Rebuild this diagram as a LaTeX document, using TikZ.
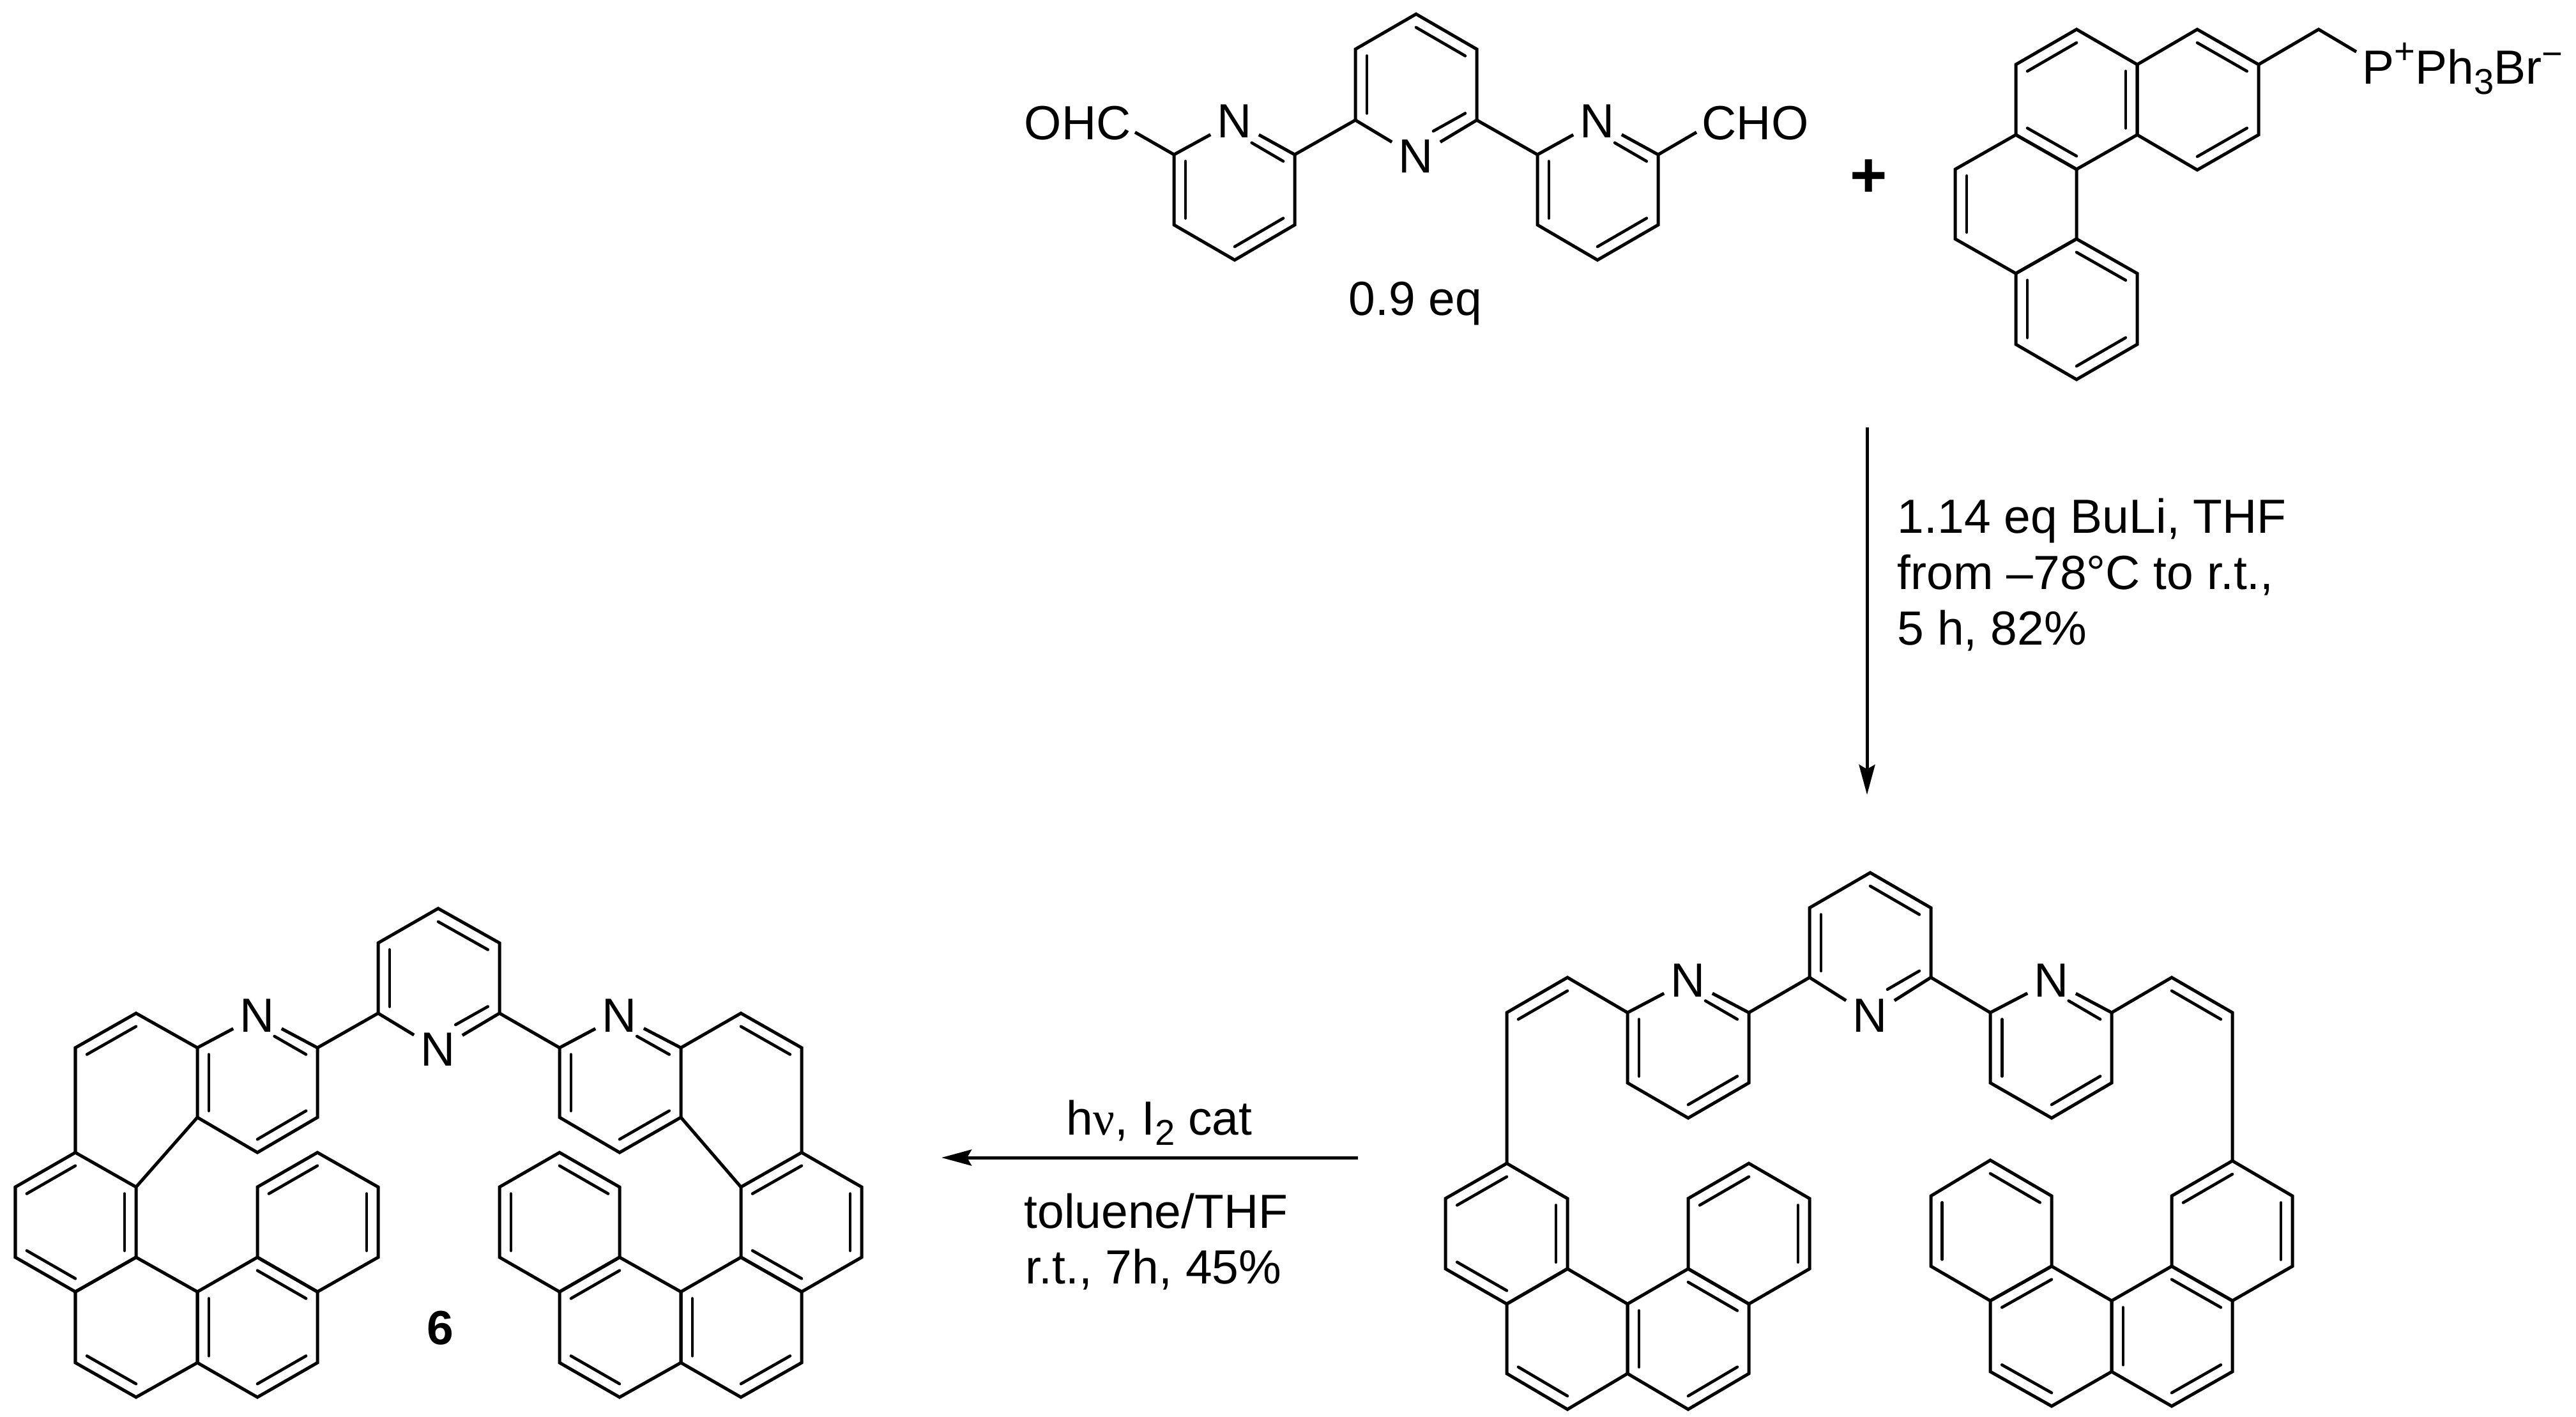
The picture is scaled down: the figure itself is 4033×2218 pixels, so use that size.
\documentclass[tikz,border=0pt]{standalone}
\usepackage{fontspec}
\setmainfont{Liberation Sans}
\newfontfamily\greekserif{Liberation Serif}
\usetikzlibrary{calc,arrows.meta}
\newcommand{\atm}[3]{\coordinate (#1) at (#2,#3);}
\newcommand{\inr}[3]{\draw[innerbond] ($(#1)!0.19!(#3)$) -- ($(#2)!0.19!(#3)$);}
\newcommand{\inn}[3]{\draw[innerbond] ($(#1)!0.19!(#3)$) -- ($($(#1)!0.19!(#3)$)!0.65!($(#2)!0.19!(#3)$)$);}
\newcommand{\supx}[2]{\raisebox{#1}{\fontsize{16pt}{16pt}\selectfont #2}}
\newcommand{\subx}[1]{\raisebox{-0.16cm}{\fontsize{16pt}{16pt}\selectfont #1}}
\tikzset{
  bond/.style={line width=0.05cm,line join=miter,line cap=butt,miter limit=10},
  innerbond/.style={line width=0.046cm,line cap=round},
  rxnarrow/.style={line width=0.05cm,-{Stealth[length=0.47cm,width=0.25cm,inset=0.07cm]}},
  atomlabel/.style={inner sep=0.1cm,font=\fontsize{21.34pt}{25pt}\selectfont},
  chemtext/.style={inner sep=0pt,anchor=base,font=\fontsize{21.34pt}{25pt}\selectfont},
  lefttext/.style={chemtext,anchor=base west}
}
\begin{document}
\begin{tikzpicture}[x=0.01cm,y=-0.01cm]
\path[fill=white] (0,0) rectangle (4033,2218);
% ---------- top terpyridine ----------
\node[atomlabel] (tlN) at (1933,190) {N};
\node[atomlabel] (tcN) at (2217,245) {N};
\node[atomlabel] (trN) at (2501,190) {N};
\node[lefttext] (ohc) at (1603,218) {OHC};
\node[lefttext] (cho) at (2664,218) {CHO};
\node[chemtext] (eq) at (2216,493) {0.9 eq};
\atm{tc1}{2217}{22}\atm{tc2}{2312}{77}\atm{tc3}{2312}{188}\atm{tcv}{2217}{241}\atm{tc5}{2122}{188}\atm{tc6}{2122}{77}\atm{tcc}{2217}{132}
\atm{tl1}{2027}{242}\atm{tl2}{2027}{352}\atm{tl3}{1933}{407}\atm{tl4}{1838}{352}\atm{tl5}{1838}{242}\atm{tlv}{1933}{187}\atm{tlc}{1933}{297}
\atm{tr1}{2407}{242}\atm{tr2}{2407}{352}\atm{tr3}{2501}{407}\atm{tr4}{2596}{352}\atm{tr5}{2596}{242}\atm{trv}{2501}{187}\atm{trc}{2501}{297}
\atm{tlx}{1777}{207}\atm{trx}{2656}{207}
\draw[bond] (tcN)--(tc5)--(tc6)--(tc1)--(tc2)--(tc3)--(tcN);
\draw[bond] (tlN)--(tl1)--(tl2)--(tl3)--(tl4)--(tl5)--(tlN);
\draw[bond] (trN)--(tr5)--(tr4)--(tr3)--(tr2)--(tr1)--(trN);
\draw[bond] (tl1)--(tc5);\draw[bond] (tc3)--(tr1);\draw[bond] (tl5)--(tlx);\draw[bond] (tr5)--(trx);
\inr{tc6}{tc5}{tcc}\inr{tc1}{tc2}{tcc}\inn{tc3}{tcv}{tcc}
\inr{tl5}{tl4}{tlc}\inr{tl2}{tl3}{tlc}\inn{tl1}{tlv}{tlc}
\inr{tr1}{tr2}{trc}\inr{tr4}{tr3}{trc}\inn{tr5}{trv}{trc}
% ---------- plus ----------
\node[inner sep=0pt,font=\fontsize{28.45pt}{30pt}\selectfont\bfseries] (plus) at (2926,279) {+};
% ---------- phosphonium ----------
\atm{ba1}{3251}{46}\atm{ba2}{3346}{101}\atm{ba3}{3346}{211}\atm{ba4}{3251}{265}\atm{ba5}{3156}{211}\atm{ba6}{3156}{101}\atm{bac}{3251}{156}
\atm{bb1}{3440}{46}\atm{bb2}{3536}{101}\atm{bb3}{3536}{211}\atm{bb4}{3440}{266}\atm{bbc}{3440}{156}
\atm{bc1}{3251}{374}\atm{bc2}{3156}{428}\atm{bc3}{3061}{374}\atm{bc4}{3061}{265}\atm{bcc}{3156}{319}
\atm{bd1}{3346}{428}\atm{bd2}{3346}{539}\atm{bd3}{3251}{594}\atm{bd4}{3156}{539}\atm{bdc}{3251}{484}
\atm{bch}{3630}{46}\atm{bp}{3689}{81}
\draw[bond] (ba1)--(ba2)--(ba3)--(ba4)--(ba5)--(ba6)--cycle;
\draw[bond] (bb1)--(bb2)--(bb3)--(bb4)--(ba3)--(ba2)--cycle;
\draw[bond] (ba5)--(ba4)--(bc1)--(bc2)--(bc3)--(bc4)--cycle;
\draw[bond] (bc1)--(bd1)--(bd2)--(bd3)--(bd4)--(bc2)--cycle;
\draw[bond] (bb2)--(bch)--(bp);
\inr{ba6}{ba1}{bac}\inr{ba2}{ba3}{bac}\inr{ba5}{ba4}{bac}
\inr{bb1}{bb2}{bbc}\inr{bb3}{bb4}{bbc}\inr{bc3}{bc4}{bcc}
\inr{bc1}{bd1}{bdc}\inr{bd2}{bd3}{bdc}\inr{bc2}{bd4}{bdc}
\node[lefttext] (psalt) at (3698,131) {P\supx{0.31cm}{+}Ph\subx{3}Br\supx{0.27cm}{−}};
% ---------- arrow 1 ----------
\atm{aones}{2923}{669}\atm{aonee}{2923}{1244}
\draw[rxnarrow] (aones)--(aonee);
\node[lefttext] (r1a) at (2970,834) {1.14 eq BuLi, THF};
\node[lefttext] (r1b) at (2970,922) {from –78°C to r.t.,};
\node[lefttext] (r1c) at (2970,1009) {5 h, 82\%};
% ---------- intermediate ----------
\node[atomlabel] (cpN) at (2643,1535) {N};
\node[atomlabel] (cmN) at (2928,1590) {N};
\node[atomlabel] (cqN) at (3212,1535) {N};
\atm{cv1}{2359}{1585}\atm{cv2}{2454}{1530}\atm{cvc}{2454}{1640}
\atm{cp1}{2548}{1585}\atm{cp2}{2548}{1695}\atm{cp3}{2643}{1750}\atm{cp4}{2738}{1695}\atm{cp5}{2738}{1585}\atm{cpv}{2643}{1530}\atm{cpc}{2643}{1640}
\atm{cm1}{2928}{1366}\atm{cm2}{3023}{1421}\atm{cm3}{3023}{1530}\atm{cmv}{2928}{1585}\atm{cm5}{2833}{1530}\atm{cm6}{2833}{1421}\atm{cmc}{2928}{1476}
\atm{cq1}{3116}{1585}\atm{cq2}{3116}{1695}\atm{cq3}{3212}{1750}\atm{cq4}{3306}{1695}\atm{cq5}{3306}{1585}\atm{cqv}{3212}{1530}\atm{cqc}{3212}{1640}
\atm{cw1}{3400}{1530}\atm{cw2}{3495}{1585}\atm{cwc}{3400}{1640}
\atm{ca1}{2359}{1821}\atm{ca2}{2454}{1876}\atm{ca3}{2454}{1986}\atm{ca4}{2359}{2041}\atm{ca5}{2263}{1986}\atm{ca6}{2263}{1876}\atm{cac}{2359}{1931}
\atm{cb3}{2548}{2041}\atm{cb4}{2548}{2150}\atm{cb5}{2454}{2206}\atm{cb6}{2359}{2150}\atm{cbc}{2454}{2096}
\atm{cc2}{2643}{1986}\atm{cc3}{2738}{2041}\atm{cc4}{2738}{2150}\atm{cc5}{2643}{2206}\atm{ccc}{2643}{2096}
\atm{cd1}{2643}{1876}\atm{cd2}{2738}{1821}\atm{cd3}{2833}{1876}\atm{cd4}{2833}{1986}\atm{cdc}{2738}{1931}
\atm{ce1}{3116}{1816}\atm{ce2}{3212}{1872}\atm{ce3}{3212}{1982}\atm{ce4}{3116}{2036}\atm{ce5}{3023}{1982}\atm{ce6}{3023}{1872}\atm{cec}{3116}{1926}
\atm{cf3}{3306}{2036}\atm{cf4}{3306}{2147}\atm{cf5}{3212}{2201}\atm{cf6}{3116}{2147}\atm{cfc}{3212}{2091}
\atm{cg2}{3400}{1982}\atm{cg3}{3495}{2036}\atm{cg4}{3495}{2147}\atm{cg5}{3400}{2201}\atm{cgc}{3400}{2091}
\atm{ch1}{3400}{1872}\atm{ch2}{3495}{1817}\atm{ch3}{3589}{1872}\atm{ch4}{3589}{1982}\atm{chc}{3495}{1927}
\draw[bond] (cpN)--(cp5)--(cp4)--(cp3)--(cp2)--(cp1)--(cpN);
\draw[bond] (cmN)--(cm5)--(cm6)--(cm1)--(cm2)--(cm3)--(cmN);
\draw[bond] (cqN)--(cq5)--(cq4)--(cq3)--(cq2)--(cq1)--(cqN);
\draw[bond] (cp1)--(cv2)--(cv1)--(ca1);\draw[bond] (cp5)--(cm5);\draw[bond] (cm3)--(cq1);
\draw[bond] (cq5)--(cw1)--(cw2)--(ch2);
\draw[bond] (ca1)--(ca2)--(ca3)--(ca4)--(ca5)--(ca6)--cycle;
\draw[bond] (ca4)--(ca3)--(cb3)--(cb4)--(cb5)--(cb6)--cycle;
\draw[bond] (cb3)--(cc2)--(cc3)--(cc4)--(cc5)--(cb4)--cycle;
\draw[bond] (cc2)--(cd1)--(cd2)--(cd3)--(cd4)--(cc3)--cycle;
\draw[bond] (ce1)--(ce2)--(ce3)--(ce4)--(ce5)--(ce6)--cycle;
\draw[bond] (ce4)--(ce3)--(cf3)--(cf4)--(cf5)--(cf6)--cycle;
\draw[bond] (cf3)--(cg2)--(cg3)--(cg4)--(cg5)--(cf4)--cycle;
\draw[bond] (cg2)--(ch1)--(ch2)--(ch3)--(ch4)--(cg3)--cycle;
\inr{cv1}{cv2}{cvc}\inr{cw1}{cw2}{cwc}
\inr{cp1}{cp2}{cpc}\inr{cp4}{cp3}{cpc}\inn{cp5}{cpv}{cpc}
\inr{cm6}{cm5}{cmc}\inr{cm1}{cm2}{cmc}\inn{cm3}{cmv}{cmc}
\inr{cq1}{cq2}{cqc}\inr{cq4}{cq3}{cqc}\inn{cq5}{cqv}{cqc}
\inr{ca6}{ca1}{cac}\inr{ca2}{ca3}{cac}\inr{ca5}{ca4}{cac}
\inr{cb6}{cb5}{cbc}
\inr{cb3}{cb4}{ccc}\inr{cc2}{cc3}{ccc}\inr{cc4}{cc5}{ccc}
\inr{cd1}{cd2}{cdc}\inr{cd3}{cd4}{cdc}
\inr{ce1}{ce2}{cec}\inr{ce6}{ce5}{cec}
\inr{ce4}{ce3}{cfc}\inr{cf6}{cf5}{cfc}
\inr{cf3}{cf4}{cgc}\inr{cg2}{cg3}{cgc}\inr{cg4}{cg5}{cgc}
\inr{ch1}{ch2}{chc}\inr{ch3}{ch4}{chc}
% ---------- arrow 2 ----------
\atm{atwos}{2126}{1812}\atm{atwoe}{1474}{1812}
\draw[rxnarrow] (atwos)--(atwoe);
\node[chemtext] (r2a) at (1815,1776) {h{\greekserif ν}, I\subx{2} cat};
\node[chemtext] (r2b) at (1810,1922) {toluene/THF};
\node[chemtext] (r2c) at (1806,2009) {r.t., 7h, 45\%};
% ---------- product 6 ----------
\node[atomlabel] (pnN) at (403,1590) {N};
\node[atomlabel] (pmN) at (686,1643) {N};
\node[atomlabel] (prN) at (970,1590) {N};
\node[chemtext,font=\fontsize{21.34pt}{25pt}\selectfont\bfseries] (six) at (689,2104) {6};
\atm{pp1}{497}{1640}\atm{pp2}{497}{1749}\atm{pp3}{403}{1804}\atm{pp4}{309}{1749}\atm{pp5}{309}{1640}\atm{pnv}{403}{1586}\atm{ppc}{403}{1695}
\atm{pu1}{213}{1586}\atm{pu2}{118}{1640}\atm{pu3}{118}{1804}\atm{pu4}{213}{1858}\atm{puc}{213}{1695}
\atm{pa3}{213}{1968}\atm{pa4}{118}{2022}\atm{pa5}{24}{1968}\atm{pa6}{24}{1858}\atm{pac}{118}{1913}
\atm{pb3}{309}{2022}\atm{pb4}{309}{2133}\atm{pb5}{213}{2187}\atm{pb6}{118}{2133}\atm{pbc}{213}{2077}
\atm{pc2}{403}{1968}\atm{pc3}{497}{2022}\atm{pc4}{497}{2133}\atm{pc5}{403}{2187}\atm{pcc}{403}{2077}
\atm{pd1}{403}{1858}\atm{pd2}{497}{1804}\atm{pd3}{592}{1858}\atm{pd4}{592}{1968}\atm{pdc}{497}{1913}
\atm{pm1}{686}{1422}\atm{pm2}{782}{1476}\atm{pm3}{782}{1586}\atm{pmv}{686}{1640}\atm{pm5}{592}{1586}\atm{pm6}{592}{1476}\atm{pmc}{686}{1531}
\atm{pr1}{876}{1640}\atm{pr2}{876}{1749}\atm{pr3}{970}{1804}\atm{pr4}{1066}{1749}\atm{pr5}{1066}{1640}\atm{prv}{970}{1586}\atm{prc}{970}{1695}
\atm{px1}{1160}{1586}\atm{px2}{1255}{1640}\atm{px3}{1255}{1804}\atm{px4}{1160}{1858}\atm{pxc}{1160}{1695}
\atm{pt3}{1349}{1858}\atm{pt4}{1349}{1968}\atm{pt5}{1255}{2022}\atm{pt6}{1160}{1968}\atm{ptc}{1255}{1913}
\atm{pg3}{1255}{2133}\atm{pg4}{1160}{2187}\atm{pg5}{1066}{2133}\atm{pg6}{1066}{2022}\atm{pgc}{1160}{2077}
\atm{ph1}{970}{1968}\atm{ph3}{970}{2187}\atm{ph4}{876}{2133}\atm{ph5}{876}{2022}\atm{phc}{970}{2077}
\atm{pw1}{876}{1804}\atm{pw2}{970}{1858}\atm{pw5}{782}{1968}\atm{pw6}{782}{1858}\atm{pwc}{876}{1913}
\draw[bond] (pnN)--(pp1)--(pp2)--(pp3)--(pp4)--(pp5)--(pnN);
\draw[bond] (pmN)--(pm5)--(pm6)--(pm1)--(pm2)--(pm3)--(pmN);
\draw[bond] (prN)--(pr5)--(pr4)--(pr3)--(pr2)--(pr1)--(prN);
\draw[bond] (pp1)--(pm5);\draw[bond] (pm3)--(pr1);
\draw[bond] (pp5)--(pu1)--(pu2)--(pu3);\draw[bond] (pp4)--(pu4);
\draw[bond] (pr5)--(px1)--(px2)--(px3);\draw[bond] (pr4)--(px4);
\draw[bond] (pu3)--(pu4)--(pa3)--(pa4)--(pa5)--(pa6)--cycle;
\draw[bond] (pa4)--(pa3)--(pb3)--(pb4)--(pb5)--(pb6)--cycle;
\draw[bond] (pb3)--(pc2)--(pc3)--(pc4)--(pc5)--(pb4)--cycle;
\draw[bond] (pc2)--(pd1)--(pd2)--(pd3)--(pd4)--(pc3)--cycle;
\draw[bond] (px3)--(pt3)--(pt4)--(pt5)--(pt6)--(px4)--cycle;
\draw[bond] (pt6)--(pt5)--(pg3)--(pg4)--(pg5)--(pg6)--cycle;
\draw[bond] (pg6)--(pg5)--(ph3)--(ph4)--(ph5)--(ph1)--cycle;
\draw[bond] (ph1)--(ph5)--(pw5)--(pw6)--(pw1)--(pw2)--cycle;
\inr{pu2}{pu1}{puc}\inr{px1}{px2}{pxc}
\inr{pp5}{pp4}{ppc}\inr{pp2}{pp3}{ppc}\inn{pp1}{pnv}{ppc}
\inr{pm6}{pm5}{pmc}\inr{pm1}{pm2}{pmc}\inn{pm3}{pmv}{pmc}
\inr{pr1}{pr2}{prc}\inr{pr4}{pr3}{prc}\inn{pr5}{prv}{prc}
\inr{pa6}{pu3}{pac}\inr{pu4}{pa3}{pac}\inr{pa5}{pa4}{pac}
\inr{pb6}{pb5}{pbc}
\inr{pb3}{pb4}{pcc}\inr{pc2}{pc3}{pcc}\inr{pc4}{pc5}{pcc}
\inr{pd1}{pd2}{pdc}\inr{pd3}{pd4}{pdc}
\inr{px4}{px3}{ptc}\inr{pt3}{pt4}{ptc}\inr{pt6}{pt5}{ptc}
\inr{pg6}{pg5}{pgc}\inr{pg3}{pg4}{pgc}
\inr{ph5}{ph1}{phc}\inr{ph4}{ph3}{phc}
\inr{pw1}{pw2}{pwc}\inr{pw6}{pw5}{pwc}
\end{tikzpicture}
\end{document}
